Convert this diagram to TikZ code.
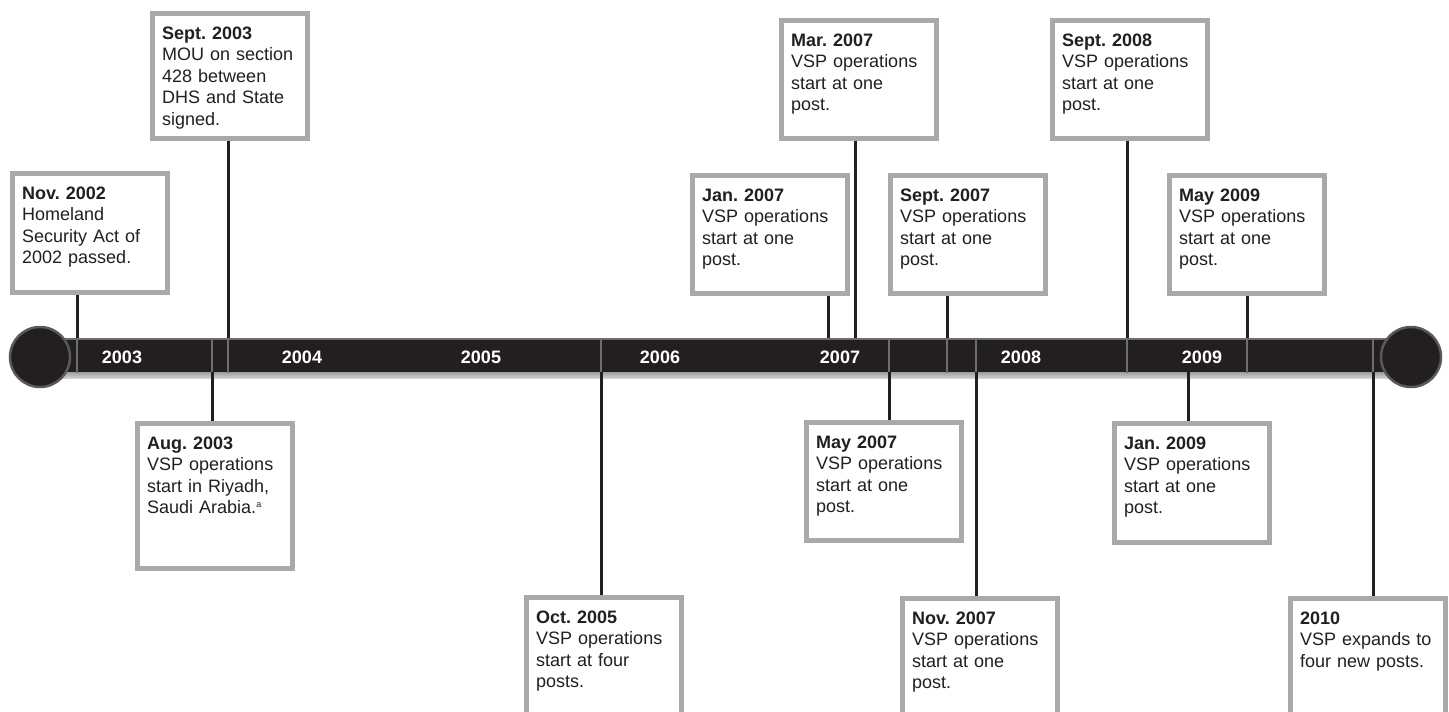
\documentclass[tikz,border=0pt]{standalone}
\usepackage{fontspec}
\setmainfont{Liberation Sans}
\usetikzlibrary{calc}
\frenchspacing
\definecolor{ink}{HTML}{231F20}
\definecolor{boxgray}{HTML}{A7A9AC}
\definecolor{divgray}{HTML}{6D6E71}
\definecolor{rimgray}{HTML}{58595B}
\definecolor{shadetop}{HTML}{8A8C8E}
\definecolor{shadebot}{HTML}{D0D2D3}
\tikzset{
  evbox/.style={draw=boxgray, line width=5pt, fill=white, rectangle, inner sep=0pt, minimum width=155pt, anchor=north west},
  evtext/.style={anchor=base west, inner sep=0pt, text width=135pt, align=left, font=\frenchspacing\fontsize{18}{21.5}\selectfont, text=ink},
  conn/.style={draw=ink, line width=3pt},
  divider/.style={draw=divgray, line width=2pt},
  yearlbl/.style={text=white, inner sep=0pt, font=\fontsize{18}{20}\selectfont\bfseries},
  endcap/.style={circle, fill=ink, draw=rimgray, line width=2.5pt, minimum size=60pt, inner sep=0pt},
  barbody/.style={rectangle, fill=ink, inner sep=0pt, minimum width=1371pt, minimum height=34pt},
}
\begin{document}
\begin{tikzpicture}[x=1pt, y=-1pt]
\useasboundingbox (0,0) rectangle (1449,712);
\clip (0,0) rectangle (1449,712);
% bar
\shade[top color=shadetop, bottom color=shadebot] (40,370) rectangle (1411,378);
\node[barbody] (bar) at (725.5,355) {};
\draw[divgray, line width=1.5pt] (40,338.75) -- (1411,338.75);
\foreach \xx in {77,212,228,601,889,947,976,1127,1247,1373}
  \draw[divider] (\xx,339) -- (\xx,373);
% year labels
\node[yearlbl] (y2003) at (122,357) {2003};
\node[yearlbl] (y2004) at (302,357) {2004};
\node[yearlbl] (y2005) at (481,357) {2005};
\node[yearlbl] (y2006) at (660,357) {2006};
\node[yearlbl] (y2007) at (840,357) {2007};
\node[yearlbl] (y2008) at (1021,357) {2008};
\node[yearlbl] (y2009) at (1202,357) {2009};
% end caps
\node[endcap] (capL) at (40,357) {};
\node[endcap] (capR) at (1411,357) {};
% event boxes
\node[evbox, minimum height=119pt] (bN02) at (9.5,170.5) {};
\node[evbox, minimum height=125pt] (bS03) at (149.5,10.5) {};
\node[evbox, minimum height=145pt] (bA03) at (134.5,420.5) {};
\node[evbox, minimum height=140pt] (bO05) at (523.5,594.5) {};
\node[evbox, minimum height=118pt] (bJ07) at (689.5,172.5) {};
\node[evbox, minimum height=118pt] (bM07) at (778.5,17.5) {};
\node[evbox, minimum height=118pt] (bS07) at (887.5,172.5) {};
\node[evbox, minimum height=118pt] (bY07) at (803.5,419.5) {};
\node[evbox, minimum height=140pt] (bV07) at (899.5,595.5) {};
\node[evbox, minimum height=118pt] (bS08) at (1049.5,17.5) {};
\node[evbox, minimum height=118pt] (bY09) at (1166.5,172.5) {};
\node[evbox, minimum height=119pt] (bJ09) at (1111.5,420.5) {};
\node[evbox, minimum height=140pt] (b10) at (1287.5,595.5) {};
% connector x positions
\coordinate (xN02) at (77,0);
\coordinate (xS03) at (228,0);
\coordinate (xA03) at (212,0);
\coordinate (xO05) at (601,0);
\coordinate (xJ07) at (828,0);
\coordinate (xM07) at (855,0);
\coordinate (xS07) at (947,0);
\coordinate (xY07) at (889,0);
\coordinate (xV07) at (976,0);
\coordinate (xS08) at (1127,0);
\coordinate (xY09) at (1247,0);
\coordinate (xJ09) at (1188,0);
\coordinate (x10) at (1373,0);
% connectors above the bar
\draw[conn] (bar.north -| xN02) -- (bN02.south -| xN02);
\draw[conn] (bar.north -| xS03) -- (bS03.south -| xS03);
\draw[conn] (bar.north -| xJ07) -- (bJ07.south -| xJ07);
\draw[conn] (bar.north -| xM07) -- (bM07.south -| xM07);
\draw[conn] (bar.north -| xS07) -- (bS07.south -| xS07);
\draw[conn] (bar.north -| xS08) -- (bS08.south -| xS08);
\draw[conn] (bar.north -| xY09) -- (bY09.south -| xY09);
% connectors below the bar
\draw[conn] (bar.south -| xA03) -- (bA03.north -| xA03);
\draw[conn] (bar.south -| xO05) -- (bO05.north -| xO05);
\draw[conn] (bar.south -| xY07) -- (bY07.north -| xY07);
\draw[conn] (bar.south -| xV07) -- (bV07.north -| xV07);
\draw[conn] (bar.south -| xJ09) -- (bJ09.north -| xJ09);
\draw[conn] (bar.south -| x10) -- (b10.north -| x10);
% texts
\node[evtext] (tN02) at ($(bN02.north west)+(12.5,28.5)$) {\textbf{Nov. 2002}\\Homeland\\Security Act of\\2002 passed.};
\node[evtext] (tS03) at ($(bS03.north west)+(12.5,28.5)$) {\textbf{Sept. 2003}\\MOU on section\\428 between\\DHS and State\\signed.};
\node[evtext] (tA03) at ($(bA03.north west)+(12.5,28.5)$) {\textbf{Aug. 2003}\\VSP operations\\start in Riyadh,\\Saudi Arabia.\textsuperscript{\fontsize{9}{9}\selectfont a}};
\node[evtext] (tO05) at ($(bO05.north west)+(12.5,28.5)$) {\textbf{Oct. 2005}\\VSP operations\\start at four\\posts.};
\node[evtext] (tJ07) at ($(bJ07.north west)+(12.5,28.5)$) {\textbf{Jan. 2007}\\VSP operations\\start at one\\post.};
\node[evtext] (tM07) at ($(bM07.north west)+(12.5,28.5)$) {\textbf{Mar. 2007}\\VSP operations\\start at one\\post.};
\node[evtext] (tS07) at ($(bS07.north west)+(12.5,28.5)$) {\textbf{Sept. 2007}\\VSP operations\\start at one\\post.};
\node[evtext] (tY07) at ($(bY07.north west)+(12.5,28.5)$) {\textbf{May 2007}\\VSP operations\\start at one\\post.};
\node[evtext] (tV07) at ($(bV07.north west)+(12.5,28.5)$) {\textbf{Nov. 2007}\\VSP operations\\start at one\\post.};
\node[evtext] (tS08) at ($(bS08.north west)+(12.5,28.5)$) {\textbf{Sept. 2008}\\VSP operations\\start at one\\post.};
\node[evtext] (tY09) at ($(bY09.north west)+(12.5,28.5)$) {\textbf{May 2009}\\VSP operations\\start at one\\post.};
\node[evtext] (tJ09) at ($(bJ09.north west)+(12.5,28.5)$) {\textbf{Jan. 2009}\\VSP operations\\start at one\\post.};
\node[evtext] (t10) at ($(b10.north west)+(12.5,28.5)$) {\textbf{2010}\\VSP expands to\\four new posts.};
\end{tikzpicture}
\end{document}
